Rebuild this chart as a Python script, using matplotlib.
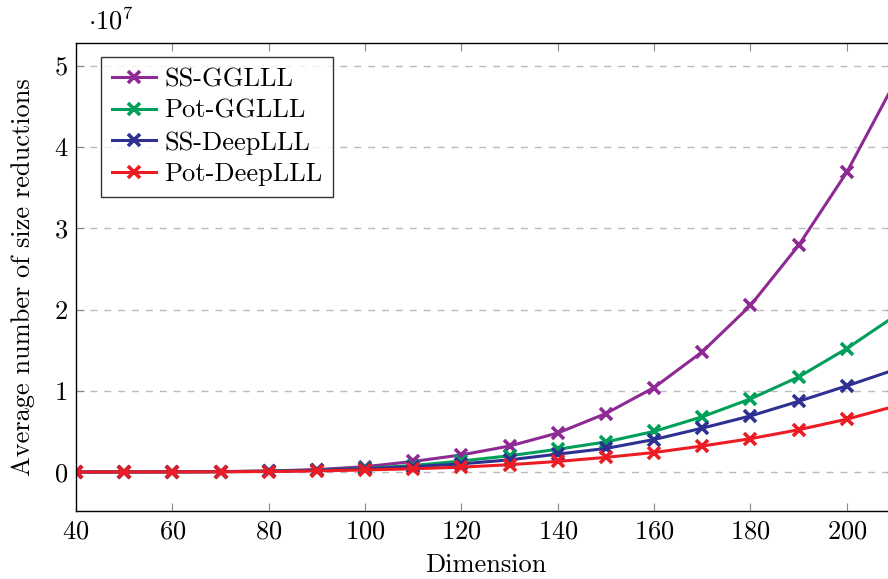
import matplotlib
matplotlib.use("Agg")
import matplotlib.pyplot as plt
from matplotlib.ticker import FuncFormatter

plt.rcParams['font.family'] = 'cmr10'
plt.rcParams['mathtext.fontset'] = 'cm'
plt.rcParams['axes.formatter.use_mathtext'] = True

dims = [40, 50, 60, 70, 80, 90, 100, 110, 120, 130, 140, 150, 160, 170, 180, 190, 200, 210]

ss_gglll = [0.0, 0.001, 0.002, 0.005, 0.012, 0.03, 0.065, 0.13, 0.21, 0.32, 0.48,
            0.72, 1.04, 1.48, 2.05, 2.79, 3.69, 4.80]
pot_gglll = [0.0, 0.001, 0.002, 0.004, 0.01, 0.022, 0.045, 0.08, 0.135, 0.20, 0.28,
             0.37, 0.50, 0.68, 0.90, 1.17, 1.52, 1.92]
ss_deeplll = [0.0, 0.001, 0.002, 0.004, 0.009, 0.02, 0.04, 0.065, 0.10, 0.15, 0.22,
              0.29, 0.40, 0.54, 0.69, 0.87, 1.06, 1.26]
pot_deeplll = [0.0, 0.001, 0.001, 0.003, 0.006, 0.013, 0.025, 0.04, 0.06, 0.09, 0.13,
               0.18, 0.24, 0.32, 0.41, 0.52, 0.65, 0.81]

series = [
    ("SS-GGLLL", ss_gglll, "#8e2a94"),
    ("Pot-GGLLL", pot_gglll, "#00a05a"),
    ("SS-DeepLLL", ss_deeplll, "#2e3192"),
    ("Pot-DeepLLL", pot_deeplll, "#ed1c24"),
]

fs = 19

fig = plt.figure(figsize=(8.88, 5.79), dpi=100)
ax = fig.add_axes([76 / 888, 1 - 511 / 579, 819 / 888, 468 / 579])

for name, vals, col in series:
    ax.plot(dims, [v * 1e7 for v in vals], color=col, lw=2.2, marker='x',
            markersize=9, mew=2.6, label=name)

ax.set_xlim(40, 210)
ax.set_ylim(-0.48e7, 5.28e7)
ax.set_xticks([40, 60, 80, 100, 120, 140, 160, 180, 200])
ax.set_yticks([0, 1e7, 2e7, 3e7, 4e7, 5e7])
ax.yaxis.set_major_formatter(FuncFormatter(lambda v, p: "%d" % round(v / 1e7)))
ax.grid(axis='y', color='#bbbbbb', ls=(0, (5, 5)), lw=1)
ax.tick_params(direction='in', top=True, right=True, length=6, color='#888888',
               labelsize=fs, pad=6)
for s in ax.spines.values():
    s.set_linewidth(1.0)

ax.set_xlabel("Dimension", fontsize=fs, labelpad=7)
ax.set_ylabel("Average number of size reductions", fontsize=fs, labelpad=14)
fig.text(88 / 888, 1 - 21 / 579, r"$\cdot 10^7$", fontsize=fs, va='center', ha='left')

leg = ax.legend(loc='upper left', bbox_to_anchor=(25 / 819, 1 - 14 / 468),
                fontsize=fs, frameon=True, fancybox=False, borderaxespad=0,
                handlelength=1.7, handletextpad=0.3, labelspacing=0.3,
                borderpad=0.4)
leg.get_frame().set_edgecolor('black')
leg.get_frame().set_linewidth(1.0)

fig.savefig("out.png", dpi=100)
